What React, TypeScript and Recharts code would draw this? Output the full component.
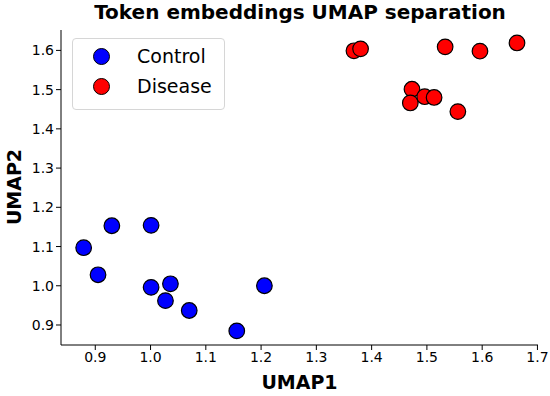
import React from "react";
import { Scatter, ScatterChart, XAxis, YAxis } from "recharts";

const controlX = [0.879, 0.905, 0.93, 1.001, 1.001, 1.036, 1.027, 1.07, 1.156, 1.206];
const controlY = [1.097, 1.028, 1.153, 1.154, 0.996, 1.005, 0.962, 0.937, 0.885, 1.0];

const diseaseX = [1.368, 1.38, 1.533, 1.596, 1.663, 1.473, 1.47, 1.496, 1.513, 1.556];
const diseaseY = [1.599, 1.604, 1.609, 1.598, 1.619, 1.501, 1.466, 1.482, 1.48, 1.444];

const xTicks = [0.9, 1.0, 1.1, 1.2, 1.3, 1.4, 1.5, 1.6, 1.7];
const yTicks = [0.9, 1.0, 1.1, 1.2, 1.3, 1.4, 1.5, 1.6];

const controlData = controlX.map((x, i) => ({ x, y: controlY[i] }));
const diseaseData = diseaseX.map((x, i) => ({ x, y: diseaseY[i] }));

const FONT = "'DejaVu Sans', sans-serif";
const tickStyle = { fontSize: 14, fill: "#000", fontFamily: FONT };

// matplotlib-like round marker with black edge
const dot = (color: string) => (props: any) =>
  <circle cx={props.cx} cy={props.cy} r={7.8} fill={color} stroke="#000" strokeWidth={1.2} />;

const LegendBox = () => (
  <div
    style={{
      position: "absolute",
      left: 72,
      top: 38,
      width: 153,
      height: 72,
      boxSizing: "border-box",
      border: "1px solid #d6d6d6",
      borderRadius: 4,
      background: "rgba(255,255,255,0.8)",
      padding: "2px 0 0 20px",
      fontFamily: FONT,
      fontSize: 19,
      lineHeight: "30px",
    }}
  >
    {[
      { name: "Control", color: "#0000ff" },
      { name: "Disease", color: "#ff0000" },
    ].map((s) => (
      <div key={s.name} style={{ display: "flex", alignItems: "center" }}>
        <span
          style={{
            display: "inline-block",
            width: 17,
            height: 17,
            borderRadius: "50%",
            background: s.color,
            border: "1.2px solid #000",
            boxSizing: "border-box",
            marginRight: 27,
          }}
        />
        {s.name}
      </div>
    ))}
  </div>
);

export default function App() {
  return (
    <div style={{ position: "absolute", left: 0, top: 0, width: 550, height: 396, background: "#fff" }}>
      <div
        style={{
          position: "absolute",
          left: 0,
          width: 600,
          top: 0,
          textAlign: "center",
          fontFamily: FONT,
          fontWeight: "bold",
          fontSize: 20,
        }}
      >
        Token embeddings UMAP separation
      </div>
      <ScatterChart
        width={550}
        height={396}
        margin={{ top: 30, right: 12, bottom: 21, left: 21 }}
      >
        <XAxis
          type="number"
          dataKey="x"
          domain={[0.838, 1.701]}
          ticks={xTicks}
          tickFormatter={(v: number) => v.toFixed(1)}
          tick={tickStyle}
          tickSize={5}
          height={30}
          stroke="#000"
          allowDataOverflow
        />
        <XAxis
          xAxisId="top"
          orientation="top"
          type="number"
          domain={[0.838, 1.701]}
          tick={false}
          tickLine={false}
          height={0}
          stroke="#000"
        />
        <YAxis
          type="number"
          dataKey="y"
          domain={[0.849, 1.652]}
          ticks={yTicks}
          tickFormatter={(v: number) => v.toFixed(1)}
          tick={tickStyle}
          tickSize={5}
          width={40}
          stroke="#000"
          allowDataOverflow
        />
        <YAxis
          yAxisId="right"
          orientation="right"
          type="number"
          domain={[0.849, 1.652]}
          tick={false}
          tickLine={false}
          width={0}
          stroke="#000"
        />
        <Scatter
          name="Control"
          data={controlData}
          shape={dot("#0000ff")}
          isAnimationActive={false}
        />
        <Scatter
          name="Disease"
          data={diseaseData}
          shape={dot("#ff0000")}
          isAnimationActive={false}
        />
      </ScatterChart>
      <LegendBox />
      <div
        style={{
          position: "absolute",
          left: 61,
          width: 477,
          top: 371,
          textAlign: "center",
          fontFamily: FONT,
          fontWeight: "bold",
          fontSize: 19,
        }}
      >
        UMAP1
      </div>
      <div
        style={{
          position: "absolute",
          left: 14,
          top: 187,
          transform: "translate(-50%, -50%) rotate(-90deg)",
          fontFamily: FONT,
          fontWeight: "bold",
          fontSize: 19,
          whiteSpace: "nowrap",
        }}
      >
        UMAP2
      </div>
    </div>
  );
}
